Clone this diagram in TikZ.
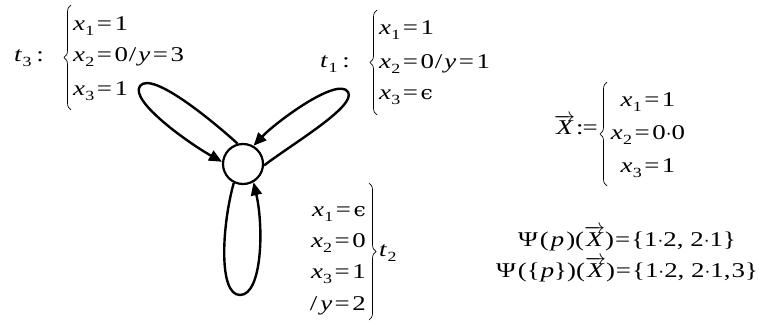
\documentclass[tikz,border=0pt]{standalone}
\usepackage{fix-cm}
\usepackage{fontspec}
\setmainfont[FakeStretch=1.28]{Liberation Serif}
\newfontfamily\epsfont[FakeStretch=1.15]{DejaVu Serif}
\usetikzlibrary{arrows.meta,decorations.pathreplacing}
\newcommand\vx[1]{\textit{x}\kern0.3pt\raisebox{-5pt}{\fontsize{14}{14}\selectfont#1}}
\newcommand\vt[1]{\textit{t}\kern0.3pt\raisebox{-5pt}{\fontsize{14}{14}\selectfont#1}}
\newcommand\eqs{\kern2.5pt=\kern2.5pt}
\newcommand\vX{$\overrightarrow{\textit{X}}$}
\newcommand\eps{{\epsfont\fontsize{19}{19}\selectfont ϵ}}
\tikzset{
  lp/.style={line width=2.4pt, -{Triangle[length=13pt,width=11pt]}},
  tx/.style={font=\fontsize{21}{21}\selectfont, inner sep=0pt},
  br/.style={decorate, decoration={brace, amplitude=7pt}, line width=0.7pt},
  st/.style={circle, draw, line width=2.2pt, minimum size=40pt, inner sep=0pt},
}
\begin{document}
\begin{tikzpicture}[x=1pt,y=-1pt]
\useasboundingbox (0,0) rectangle (759,323);
\node[st] (c) at (243,164) {};
% loops
\draw[lp] (c.105) .. controls (216,124) and (152,70) .. (140,86)
          .. controls (129,101) and (190,144) .. (c.174);
\draw[lp] (c.-4) .. controls (292,144) and (357,106) .. (348,92)
          .. controls (338,76) and (276,122) .. (c.60);
\draw[lp] (c.-116) .. controls (222,225) and (218,295) .. (240,295)
          .. controls (262,295) and (264,228) .. (c.-60);
% t3
\node[tx, anchor=base west] (t3) at (14,62) {\vt{3}\kern5pt:};
\draw[br] (71,110) -- (71,5);
\node[tx, anchor=base west] (t3a) at (73,31) {\vx{1}\eqs 1};
\node[tx, anchor=base west] (t3b) at (73,62) {\vx{2}\eqs 0\kern1pt/\kern2pt\textit{y}\eqs 3};
\node[tx, anchor=base west] (t3c) at (73,96) {\vx{3}\eqs 1};
% t1
\node[tx, anchor=base west] (t1) at (320,68) {\vt{1}\kern5pt:};
\draw[br] (377,115) -- (377,10);
\node[tx, anchor=base west] (t1a) at (379,35) {\vx{1}\eqs 1};
\node[tx, anchor=base west] (t1b) at (379,69) {\vx{2}\eqs 0\kern1pt/\kern2pt\textit{y}\eqs 1};
\node[tx, anchor=base west] (t1c) at (379,100) {\vx{3}\eqs \eps};
% t2
\draw[br] (369,183) -- (369,320);
\node[tx, anchor=base east] (t2a) at (366,216) {\vx{1}\eqs \eps};
\node[tx, anchor=base east] (t2b) at (366,247) {\vx{2}\eqs 0};
\node[tx, anchor=base east] (t2c) at (366,278) {\vx{3}\eqs 1};
\node[tx, anchor=base east] (t2d) at (366,310) {/\kern3pt\textit{y}\eqs 2};
\node[tx, anchor=base west] (t2) at (379,256) {\vt{2}};
% X
\node[tx, anchor=base east] (X) at (598,135) {\vX\kern1pt:\kern-1pt=};
\draw[br] (607,186) -- (607,82);
\node[tx, anchor=base] (Xa) at (648,107) {\vx{1}\eqs 1};
\node[tx, anchor=base] (Xb) at (648,140) {\vx{2}\eqs 0$\cdot$0};
\node[tx, anchor=base] (Xc) at (648,172) {\vx{3}\eqs 1};
% Psi
\node[tx, anchor=base] (p1) at (627,246) {Ψ\kern2pt(\kern2pt\textit{p}\kern2pt)(\vX)\kern1pt=\kern1pt\{1$\cdot$2, 2$\cdot$1\}};
\node[tx, anchor=base] (p2) at (627,277) {Ψ\kern2pt(\{\kern1pt\textit{p}\})(\vX)\kern1pt=\kern1pt\{1$\cdot$2, 2$\cdot$1,\kern1pt3\}};
\end{tikzpicture}
\end{document}
